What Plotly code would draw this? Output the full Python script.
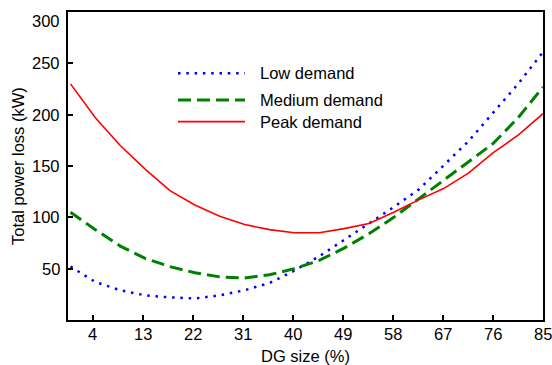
import plotly.graph_objects as go

# DG size (%) sample points
dg_size = [round(85 * i / 19, 2) for i in range(20)]
low_demand = [52, 37, 29, 24, 22, 21, 24, 29, 36, 48, 62, 78, 94, 110, 127, 151, 174, 202, 230, 261]
medium_demand = [105, 88, 72, 60, 52, 46, 42, 41, 44, 50, 58, 70, 84, 100, 118, 136, 154, 172, 197, 227]
peak_demand = [230, 197, 170, 147, 126, 112, 101, 93, 88, 85, 85, 89, 94, 105, 117, 128, 143, 163, 180, 201]

x_ticks = [4, 13, 22, 31, 40, 49, 58, 67, 76, 85]
y_ticks = [50, 100, 150, 200, 250, 300]

series_names = ["Low demand", "Medium demand", "Peak demand"]
series_values = [low_demand, medium_demand, peak_demand]
styles = [
    dict(color="#0000ff", width=2.5, dash="2.5px,5.8px"),
    dict(color="#008000", width=3, dash="13px,6px"),
    dict(color="#ff0000", width=1.6, dash="solid"),
]

FONT = "Liberation Sans, Arial, sans-serif"
FS = 16.5
TXT = dict(family=FONT, size=FS, color="#000000")

fig = go.Figure()
for name, vals, st in zip(series_names, series_values, styles):
    fig.add_trace(go.Scatter(x=dg_size, y=vals, mode="lines", name=name,
                             line=st, showlegend=False))

# manual legend (line samples + labels) in paper coordinates
legend_y = [0.801, 0.714, 0.644]
for name, st, ly in zip(series_names, styles, legend_y):
    fig.add_shape(type="line", xref="paper", yref="paper",
                  x0=0.2316, x1=0.3726, y0=ly, y1=ly, line=st)
    fig.add_annotation(xref="paper", yref="paper", x=0.399, y=ly,
                       text=name, showarrow=False, xanchor="left", yanchor="middle",
                       font=TXT)

# x tick labels (as text, so the clipped "85" at the right edge is kept)
for t in x_ticks:
    fig.add_annotation(xref="x", yref="paper", x=t, y=0, text=str(t),
                       showarrow=False, xanchor="center", yanchor="top", yshift=-3,
                       font=TXT)
# y tick labels (top label sits slightly below the frame corner, as in the reference)
for t in y_ticks:
    fig.add_annotation(xref="paper", yref="y", x=0, y=t, text=str(t),
                       showarrow=False, xanchor="right", yanchor="middle", xshift=-6,
                       yshift=(-9 if t == y_ticks[-1] else 0), font=TXT)
# axis titles
fig.add_annotation(xref="paper", yref="paper", x=0.5, y=0, text="DG size (%)",
                   showarrow=False, xanchor="center", yanchor="top", yshift=-25,
                   font=TXT)
fig.add_annotation(xref="paper", yref="paper", x=0, y=0.5, text="Total power loss (kW)",
                   showarrow=False, textangle=-90, xanchor="center", yanchor="middle",
                   xshift=-50, font=TXT)

axis_common = dict(
    showgrid=False, zeroline=False, showline=True, linecolor="#000000", linewidth=2,
    mirror=True, ticks="inside", ticklen=5, tickwidth=1.5, tickcolor="#000000",
    showticklabels=False, automargin=False,
)

fig.update_layout(
    width=552, height=365,
    margin=dict(l=68, r=9, t=12, b=45),
    paper_bgcolor="white", plot_bgcolor="white",
    font=TXT,
    xaxis=dict(range=[-0.45, 85], tickvals=x_ticks, **axis_common),
    yaxis=dict(range=[0, 300], tickvals=y_ticks, **axis_common),
)

fig.write_html("out.html")
